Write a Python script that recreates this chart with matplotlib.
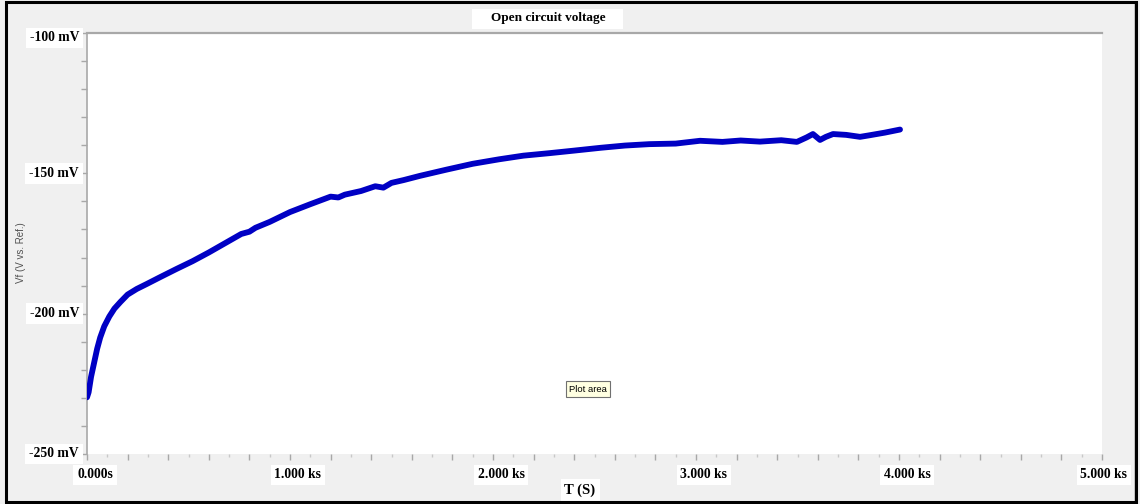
import matplotlib
matplotlib.use("Agg")
import matplotlib.pyplot as plt
from matplotlib.patches import Rectangle
from matplotlib.lines import Line2D
from matplotlib.ticker import MultipleLocator
import matplotlib.transforms as mtransforms

# open circuit voltage log: time (s) and potential (mV vs. ref.)
t_s = [0, 8, 20, 35, 50, 65, 85, 110, 135, 165, 200, 245, 295, 360, 440,
       520, 600, 680, 760, 800, 830, 900, 1000, 1100, 1200, 1238, 1270,
       1350, 1420, 1460, 1500, 1560, 1640, 1770, 1900, 2030, 2150, 2280,
       2400, 2530, 2650, 2770, 2900, 3020, 3130, 3220, 3315, 3420, 3497,
       3545, 3576, 3611, 3640, 3675, 3740, 3808, 3850, 3930, 4005]
vf_mv = [-229.8, -228.0, -222.5, -217.5, -212.5, -208.5, -204.5, -201.0,
         -198.2, -195.8, -193.2, -191.2, -189.4, -187.0, -184.1, -181.3,
         -178.2, -174.9, -171.6, -170.8, -169.4, -167.3, -163.8, -161.0,
         -158.3, -158.6, -157.6, -156.3, -154.6, -155.1, -153.4, -152.4,
         -150.9, -148.7, -146.6, -145.0, -143.7, -142.8, -141.9, -140.9,
         -140.1, -139.6, -139.4, -138.4, -138.8, -138.3, -138.7, -138.2,
         -138.8, -137.2, -136.0, -138.1, -137.0, -136.0, -136.3, -137.0,
         -136.5, -135.5, -134.4]

x_ticks = [0, 1000, 2000, 3000, 4000, 5000]
x_labels = ["0.000s", "1.000 ks", "2.000 ks", "3.000 ks", "4.000 ks", "5.000 ks"]
y_ticks = [-100, -150, -200, -250]
y_labels = ["-100 mV", "-150 mV", "-200 mV", "-250 mV"]

W, H = 1140, 504
bg = "#f0f0f0"
axis_grey = "#a8a8a8"
serif = ["Liberation Serif", "DejaVu Serif"]
sans = ["Liberation Sans", "DejaVu Sans"]

fig = plt.figure(figsize=(W / 100, H / 100), dpi=100, facecolor=bg)
ax = fig.add_axes([87 / W, 50 / H, 1015 / W, 421 / H])
ax.set_facecolor("white")

ax.plot(t_s, vf_mv, color="#0000c4", lw=4.2, solid_capstyle="round",
        solid_joinstyle="round", zorder=3)

ax.set_xlim(0, 5000)
ax.set_ylim(-250, -100)

ax.xaxis.set_major_locator(MultipleLocator(200))
ax.xaxis.set_minor_locator(MultipleLocator(100))
ax.yaxis.set_major_locator(MultipleLocator(10))
ax.tick_params(axis="both", which="major", direction="out", length=4,
               width=1, color=axis_grey, labelbottom=False, labelleft=False)
ax.tick_params(axis="x", which="minor", direction="out", length=2,
               width=1, color="#c8c8c8")

for side in ["right", "bottom"]:
    ax.spines[side].set_visible(False)
ax.spines["left"].set_color(axis_grey)
ax.spines["left"].set_linewidth(1.2)
ax.spines["top"].set_color(axis_grey)
ax.spines["top"].set_linewidth(1.6)

box = dict(facecolor="white", edgecolor="none", pad=2.8)

# y labels only every 50 mV, boxed
ytr = ax.get_yaxis_transform()
for v, lab in zip(y_ticks, y_labels):
    dy = -5 if v == -100 else 0
    tr = mtransforms.offset_copy(ytr, fig=fig, x=-8, y=dy, units="dots")
    ax.text(0, v, lab, transform=tr, ha="right", va="center", fontsize=9.8,
            fontweight="bold", family=serif, bbox=box)

xtr = ax.get_xaxis_transform()
for x, lab in zip(x_ticks, x_labels):
    dx = 2 if x == 5000 else 8
    tr = mtransforms.offset_copy(xtr, fig=fig, x=dx, y=-21, units="dots")
    ax.text(x, 0, lab, transform=tr, ha="center", va="center", fontsize=9.8,
            fontweight="bold", family=serif, bbox=box)

fig.text(580 / W, 1 - 490 / H, "T (S)", ha="center", va="center",
         fontsize=10.5, fontweight="bold", family=serif, bbox=box)

fig.text(21 / W, 1 - 253 / H, "Vf (V vs. Ref.)", rotation=90, ha="center",
         va="center", fontsize=7, color="#505050", family=sans)

# title strip
fig.patches.append(Rectangle((472 / W, 1 - 29 / H), 151 / W, 20 / H,
                             transform=fig.transFigure, facecolor="white",
                             edgecolor="none", zorder=1))
fig.text(548 / W, 1 - 18.5 / H, "Open circuit voltage", ha="center",
         va="center", fontsize=9.5, fontweight="bold", family=serif, zorder=2)

# hover tooltip
fig.text(588 / W, 1 - 389 / H, "Plot area", ha="center", va="center",
         fontsize=6.8, family=sans, zorder=5,
         bbox=dict(facecolor="#ffffe1", edgecolor="#707070", lw=0.8, pad=2.2))

# window frame
fig.lines.append(Line2D([1135 / W, 1135 / W], [2 / H, 1 - 2 / H],
                        transform=fig.transFigure, color="#c0c0c0", lw=1.2))
fig.patches.append(Rectangle((6 / W, 2 / H), (W - 10) / W, (H - 4) / H,
                             transform=fig.transFigure, facecolor="none",
                             edgecolor="black", lw=2.2, zorder=10))

fig.savefig("out.png", dpi=100, facecolor=bg)
